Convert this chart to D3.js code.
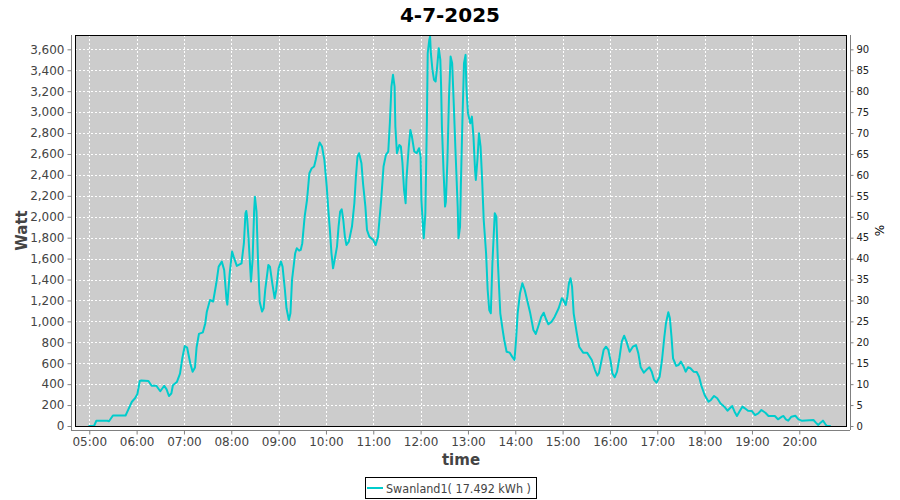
<!DOCTYPE html>
<html>
<head>
<meta charset="utf-8">
<script src="https://cdn.jsdelivr.net/npm/d3@7"></script>
<style>
  body { margin: 0; background: #fff; }
  svg { display: block; font-family: "DejaVu Sans", sans-serif; }
</style>
</head>
<body>
<svg id="chart" width="900" height="500"></svg>
<script>
const title = "4-7-2025";
const seriesName = "Swanland1( 17.492 kWh )";
const times = ["04:59","05:06","05:09","05:23","05:25","05:30","05:46","05:49","05:54","05:58","06:01","06:04","06:06","06:15","06:19","06:25","06:30","06:35","06:38","06:41","06:44","06:46","06:51","06:55","06:58","07:01","07:04","07:08","07:11","07:14","07:16","07:19","07:24","07:27","07:29","07:33","07:37","07:41","07:44","07:48","07:51","07:54","07:55","07:58","08:01","08:03","08:07","08:13","08:16","08:18","08:19","08:20","08:22","08:25","08:27","08:29","08:30","08:32","08:34","08:36","08:39","08:41","08:43","08:47","08:49","08:52","08:55","08:57","09:00","09:03","09:05","09:08","09:10","09:13","09:15","09:17","09:21","09:23","09:26","09:28","09:30","09:33","09:36","09:39","09:42","09:45","09:47","09:50","09:52","09:55","09:58","10:01","10:03","10:05","10:07","10:09","10:11","10:14","10:16","10:18","10:20","10:22","10:24","10:26","10:29","10:33","10:36","10:38","10:40","10:42","10:45","10:47","10:50","10:52","10:55","11:00","11:03","11:06","11:10","11:13","11:16","11:19","11:21","11:23","11:25","11:27","11:28","11:30","11:33","11:35","11:37","11:39","11:41","11:42","11:45","11:47","11:49","11:52","11:55","11:58","12:00","12:01","12:03","12:04","12:06","12:08","12:09","12:11","12:12","12:13","12:15","12:17","12:19","12:21","12:23","12:25","12:26","12:27","12:29","12:31","12:32","12:34","12:36","12:38","12:40","12:42","12:44","12:47","12:48","12:50","12:51","12:53","12:55","12:57","12:58","13:00","13:03","13:05","13:07","13:09","13:10","13:12","13:14","13:16","13:18","13:20","13:23","13:25","13:27","13:29","13:31","13:34","13:36","13:38","13:41","13:44","13:46","13:49","13:53","13:56","13:59","14:01","14:03","14:06","14:09","14:12","14:16","14:19","14:23","14:26","14:29","14:33","14:36","14:39","14:42","14:46","14:50","14:55","14:59","15:01","15:04","15:06","15:08","15:10","15:12","15:14","15:18","15:21","15:26","15:31","15:37","15:41","15:44","15:46","15:50","15:52","15:55","15:58","16:01","16:03","16:06","16:09","16:12","16:15","16:18","16:21","16:25","16:29","16:33","16:36","16:39","16:43","16:47","16:50","16:53","16:56","16:59","17:03","17:06","17:09","17:11","17:14","17:16","17:18","17:20","17:24","17:27","17:30","17:33","17:36","17:39","17:42","17:46","17:50","17:53","17:56","18:00","18:05","18:08","18:12","18:16","18:20","18:25","18:29","18:32","18:35","18:38","18:41","18:44","18:48","18:51","18:55","19:00","19:04","19:08","19:12","19:17","19:21","19:29","19:33","19:38","19:40","19:43","19:46","19:50","19:55","19:59","20:03","20:18","20:21","20:24","20:27","20:30","20:33","20:35","20:40"];
const watts = [0,0,50,50,45,100,100,150,232,265,306,430,435,430,385,385,332,385,350,287,310,390,420,500,650,765,750,600,519,560,750,880,895,980,1093,1204,1190,1364,1523,1571,1491,1204,1160,1460,1667,1619,1530,1555,1747,2033,2055,2001,1778,1380,1587,2065,2190,2049,1555,1188,1093,1125,1300,1539,1523,1364,1220,1300,1507,1571,1523,1300,1125,1013,1077,1396,1651,1699,1676,1683,1747,2001,2160,2416,2464,2480,2543,2655,2709,2671,2543,2288,2065,1874,1651,1507,1587,1715,1906,2049,2071,1969,1810,1730,1762,1906,2129,2384,2575,2607,2511,2320,2097,1874,1810,1778,1730,1810,2160,2480,2591,2623,2894,3244,3356,3244,2862,2607,2686,2671,2511,2256,2129,2352,2671,2830,2766,2623,2607,2655,2575,2160,1906,1794,2033,2925,3563,3690,3722,3563,3404,3308,3292,3435,3611,3499,3244,2862,2448,2097,2140,2543,3148,3531,3467,3085,2671,2097,1794,1906,2288,2925,3467,3547,3244,2990,2894,2957,2766,2448,2352,2543,2798,2671,2352,1969,1651,1300,1109,1077,1555,2033,2001,1555,1077,918,822,710,701,663,631,822,1077,1269,1364,1300,1173,1077,918,880,949,1045,1083,1020,972,997,1045,1125,1221,1204,1157,1236,1364,1412,1332,1077,886,758,701,701,631,535,481,504,650,727,758,727,615,504,466,519,650,806,863,806,710,758,774,694,561,510,542,561,519,440,414,471,631,854,982,1087,1029,854,647,574,583,615,574,519,561,552,519,516,471,382,296,232,249,287,265,217,185,146,169,191,137,96,137,185,169,146,143,105,121,153,127,96,96,64,89,96,64,51,89,98,64,51,57,32,10,32,51,19,0,0];
const leftTicks = d3.range(0, 3601, 200);
const rightTicks = d3.range(0, 91, 5);
const hourTicks = d3.range(5, 21);

const svg = d3.select("#chart");
const L = 75, R = 847, T = 35, B = 426;
const day = (h, m, s) => new Date(2025, 6, 4, h, m, s || 0);
const parse = s => { const [h, m] = s.split(":").map(Number); return day(h, m); };
const data = times.map((t, i) => ({ t: parse(t), v: watts[i] }));

const x = d3.scaleTime().domain([day(4, 41, 54), day(21, 0, 30)]).range([L, R]);
const y = d3.scaleLinear().domain([0, 3737]).range([B, T]);
const y2 = d3.scaleLinear().domain([0, 3737 / 40]).range([B, T]);

// plot background
svg.append("rect").attr("x", L).attr("y", T).attr("width", R - L).attr("height", B - T).attr("fill", "#cccccc");

// grid
const grid = svg.append("g").attr("stroke", "#ffffff").attr("stroke-width", 1).attr("stroke-dasharray", "2,2");
leftTicks.forEach(v => {
  const yy = Math.round(y(v)) + 0.5;
  grid.append("line").attr("x1", L).attr("x2", R).attr("y1", yy).attr("y2", yy);
});
hourTicks.forEach(h => {
  const xx = Math.round(x(day(h, 0))) + 0.5;
  grid.append("line").attr("x1", xx).attr("x2", xx).attr("y1", T).attr("y2", B);
});

// line
const line = d3.line().x(d => x(d.t)).y(d => y(d.v));
svg.append("path").datum(data).attr("d", line).attr("fill", "none")
  .attr("stroke", "#00cccc").attr("stroke-width", 2).attr("stroke-linejoin", "round");

// plot border
svg.append("rect").attr("x", L + 0.5).attr("y", T + 0.5).attr("width", R - L - 1).attr("height", B - T)
  .attr("fill", "none").attr("stroke", "#000").attr("stroke-width", 1);

// left axis
const yAxis = d3.axisLeft(y).tickValues(leftTicks).tickFormat(d3.format(",")).tickSize(4).tickPadding(3);
const gl = svg.append("g").attr("transform", "translate(71.5,0)").call(yAxis);
gl.select(".domain").attr("stroke", "#808080").attr("d", `M0,${T}V${B + 4}`);
gl.selectAll(".tick line").attr("stroke", "#808080");
gl.selectAll(".tick text").attr("fill", "#444").style("font-size", "12px").style("font-family", "DejaVu Sans");

// right axis
const y2Axis = d3.axisRight(y2).tickValues(rightTicks).tickSize(3).tickPadding(3);
const gr = svg.append("g").attr("transform", "translate(850.5,0)").call(y2Axis);
gr.select(".domain").attr("stroke", "#808080").attr("d", `M0,${T}V${B + 4}`);
gr.selectAll(".tick line").attr("stroke", "#808080");
gr.selectAll(".tick text").attr("fill", "#222").style("font-size", "10px").style("font-family", "DejaVu Sans");

// x axis
const xAxis = d3.axisBottom(x).tickValues(hourTicks.map(h => day(h, 0))).tickFormat(d3.timeFormat("%H:%M")).tickSize(4).tickPadding(3);
const gx = svg.append("g").attr("transform", "translate(0,430.5)").call(xAxis);
gx.select(".domain").attr("stroke", "#808080").attr("d", `M${L - 4},0H${R + 3}`);
gx.selectAll(".tick line").attr("stroke", "#808080");
gx.selectAll(".tick text").attr("fill", "#444").style("font-size", "12px").style("font-family", "DejaVu Sans");

// title
svg.append("text").attr("x", 450).attr("y", 22).attr("text-anchor", "middle")
  .style("font-size", "20px").style("font-weight", "bold").attr("fill", "#000").text(title);

// axis labels
svg.append("text").attr("transform", `translate(27,${(T + B) / 2}) rotate(-90)`).attr("text-anchor", "middle")
  .style("font-size", "15px").style("font-weight", "bold").attr("fill", "#444").text("Watt");
svg.append("text").attr("x", (L + R) / 2).attr("y", 465).attr("text-anchor", "middle")
  .style("font-size", "15px").style("font-weight", "bold").attr("fill", "#444").text("time");
svg.append("text").attr("transform", `translate(884,${(T + B) / 2}) rotate(-90)`).attr("text-anchor", "middle")
  .style("font-size", "12px").attr("fill", "#000").text("%");

// legend
const lg = svg.append("g");
lg.append("rect").attr("x", 365.5).attr("y", 477.5).attr("width", 171).attr("height", 21)
  .attr("fill", "#fff").attr("stroke", "#000");
lg.append("line").attr("x1", 367).attr("x2", 383).attr("y1", 488).attr("y2", 488)
  .attr("stroke", "#00cccc").attr("stroke-width", 2);
lg.append("text").attr("x", 386).attr("y", 492.5).style("font-size", "12px").attr("fill", "#444")
  .attr("textLength", 145).attr("lengthAdjust", "spacingAndGlyphs").text(seriesName);
</script>
</body>
</html>
